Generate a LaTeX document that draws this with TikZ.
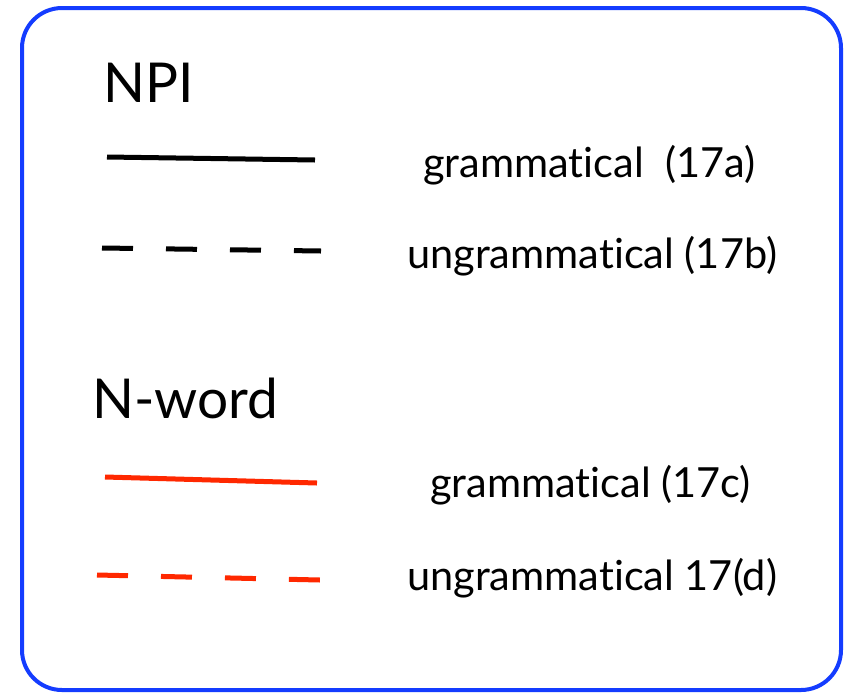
\documentclass[tikz,border=0pt]{standalone}
\usepackage{fontspec}
\setmainfont[Ligatures={NoCommon,NoRare,NoDiscretionary}]{Lato}
\definecolor{frameblue}{RGB}{20,60,255}
\definecolor{legred}{RGB}{255,40,0}
\begin{document}
\begin{tikzpicture}[x=1pt,y=-1pt,
  head/.style={anchor=base west,inner sep=0pt,font=\fontsize{55}{55}\selectfont},
  lab/.style={anchor=base west,inner sep=0pt,font=\fontsize{41.5}{41.5}\selectfont},
  leg/.style={line width=5pt},
  legdash/.style={line width=5pt,dash pattern=on 31pt off 33pt}]
\useasboundingbox (0,0) rectangle (849,697);
\draw[frameblue,line width=4pt,rounded corners=40pt] (22,8) rectangle (841,690);
\node[head] (npi) at (103,102) {NPI};
\coordinate (a1) at (107,157); \coordinate (a2) at (315,160);
\draw[leg] (a1) -- (a2);
\node[lab] (la) at (423,177) {grammatical\ \ (17a)};
\coordinate (b1) at (102,248); \coordinate (b2) at (321,251);
\draw[legdash] (b1) -- (b2);
\node[lab] (lb) at (407,268) {ungrammatical (17b)};
\node[head] (nw) at (92,418) {N-word};
\coordinate (c1) at (105,477); \coordinate (c2) at (317,483);
\draw[leg,legred] (c1) -- (c2);
\node[lab] (lc) at (430,497) {grammatical (17c)};
\coordinate (d1) at (97,575); \coordinate (d2) at (320,580);
\draw[legdash,legred] (d1) -- (d2);
\node[lab] (ld) at (407,590) {ungrammatical 17(d)};
\end{tikzpicture}
\end{document}
